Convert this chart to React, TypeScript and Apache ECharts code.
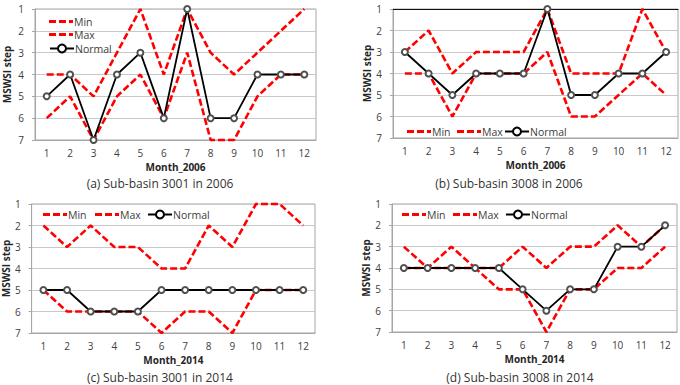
import React, { useEffect, useRef } from "react";
import * as echarts from "echarts";

// Month categories shared by every panel
const months = ["1", "2", "3", "4", "5", "6", "7", "8", "9", "10", "11", "12"];
const stepTicks = [1, 2, 3, 4, 5, 6, 7];

// (a) Sub-basin 3001, 2006
const a_min = [4, 4, 5, 3, 1, 4, 1, 3, 4, 3, 2, 1];
const a_max = [6, 5, 7, 5, 4, 6, 3, 7, 7, 5, 4, 4];
const a_normal = [5, 4, 7, 4, 3, 6, 1, 6, 6, 4, 4, 4];

// (b) Sub-basin 3008, 2006
const b_min = [3, 2, 4, 3, 3, 3, 1, 4, 4, 4, 1, 3];
const b_max = [4, 4, 6, 4, 4, 4, 3, 6, 6, 5, 4, 5];
const b_normal = [3, 4, 5, 4, 4, 4, 1, 5, 5, 4, 4, 3];

// (c) Sub-basin 3001, 2014
const c_min = [2, 3, 2, 3, 3, 4, 4, 2, 3, 1, 1, 2];
const c_max = [5, 6, 6, 6, 6, 7, 6, 6, 7, 5, 5, 5];
const c_normal = [5, 5, 6, 6, 6, 5, 5, 5, 5, 5, 5, 5];

// (d) Sub-basin 3008, 2014
const d_min = [3, 4, 3, 4, 4, 3, 4, 3, 3, 2, 3, 2];
const d_max = [4, 4, 4, 4, 5, 5, 7, 5, 5, 4, 4, 3];
const d_normal = [4, 4, 4, 4, 4, 5, 6, 5, 5, 3, 3, 2];

const captions = [
  "(a) Sub-basin 3001 in 2006",
  "(b) Sub-basin 3008 in 2006",
  "(c) Sub-basin 3001 in 2014",
  "(d) Sub-basin 3008 in 2014",
];
const xNames = ["Month_2006", "Month_2006", "Month_2014", "Month_2014"];

const FONT = "'Open Sans', 'Noto Sans', sans-serif";
const RED = "#ff0000";
// dashed legend swatch for the envelope series (24 x 3 box)
const DASH_ICON = "path://M0,0h7v3h-7z M10,0h7v3h-7z M20,0h4v3h-4z";

export default function App() {
  const ref = useRef<HTMLDivElement>(null);

  useEffect(() => {
    document.body.style.margin = "0";
    if (!ref.current) return;
    const chart = echarts.init(ref.current, undefined, { renderer: "svg" });

    const panels = [
      { min: a_min, max: a_max, normal: a_normal },
      { min: b_min, max: b_max, normal: b_normal },
      { min: c_min, max: c_max, normal: c_normal },
      { min: d_min, max: d_max, normal: d_normal },
    ];

    const grids = [
      { left: 35, top: 9, width: 281, height: 131 },
      { left: 393, top: 9, width: 285, height: 129 },
      { left: 30, top: 204, width: 285, height: 129 },
      { left: 392, top: 204, width: 285, height: 128 },
    ];
    const yNameGap = [23, 20, 18, 19];

    const xAxes: any[] = grids.map((_, i) => ({
      type: "category",
      gridIndex: i,
      data: months,
      boundaryGap: true,
      name: xNames[i],
      nameLocation: "middle",
      nameGap: 22,
      nameTextStyle: { fontWeight: "bold", fontSize: 10, color: "#262626", fontFamily: FONT },
      axisLine: { lineStyle: { color: "#a6a6a6", width: 1 } },
      axisTick: { show: false },
      axisLabel: { fontSize: 10, color: "#404040", margin: 8, fontFamily: FONT },
      splitLine: { show: false },
    }));
    // dark top edge of panel (b)
    xAxes.push({
      type: "category",
      gridIndex: 1,
      position: "top",
      data: months,
      axisLine: { lineStyle: { color: "#111", width: 1 } },
      axisTick: { show: false },
      axisLabel: { show: false },
      splitLine: { show: false },
    });

    const yAxes = grids.map((_, i) => ({
      type: "value",
      gridIndex: i,
      inverse: true,
      min: stepTicks[0],
      max: stepTicks[stepTicks.length - 1],
      interval: 1,
      name: "MSWSI step",
      nameLocation: "middle",
      nameGap: yNameGap[i],
      nameTextStyle: { fontWeight: "bold", fontSize: 10, color: "#262626", fontFamily: FONT },
      axisLine: { show: true, lineStyle: { color: "#a6a6a6", width: 1 } },
      axisTick: { show: true, length: 3, lineStyle: { color: "#a6a6a6" } },
      axisLabel: { fontSize: 10, color: "#404040", margin: 11, fontFamily: FONT },
      splitLine: { show: true, lineStyle: { color: "#c8c8c8", width: 1 } },
    }));

    const series: any[] = [];
    panels.forEach((p, i) => {
      const dashed = {
        type: "line",
        xAxisIndex: i,
        yAxisIndex: i,
        symbol: "none",
        clip: false,
        lineStyle: { color: RED, width: 2.6, type: [7, 3] },
        itemStyle: { color: RED },
      };
      series.push({ ...dashed, name: "Min", data: p.min, z: 2 });
      series.push({ ...dashed, name: "Max", data: p.max, z: 2 });
      series.push({
        type: "line",
        name: "Normal",
        xAxisIndex: i,
        yAxisIndex: i,
        data: p.normal,
        clip: false,
        symbol: "emptyCircle",
        symbolSize: 6,
        lineStyle: { color: "#000", width: 1.8 },
        itemStyle: { color: "#505050", borderColor: "#505050", borderWidth: 1 },
        z: 3,
      });
    });

    // legend item positions: [name, left, centerY]
    const legendItems: [string, number, number][] = [
      ["Min", 49, 21], ["Max", 49, 34], ["Normal", 49, 48],
      ["Min", 407, 131], ["Max", 457, 131], ["Normal", 504, 131],
      ["Min", 43, 214], ["Max", 95, 214], ["Normal", 147, 214],
      ["Min", 402, 214], ["Max", 453, 214], ["Normal", 505, 214],
    ];
    const legends = legendItems.map(([name, left, cy]) => {
      const dash = name !== "Normal";
      return {
        data: [name],
        left,
        top: cy - 5,
        padding: 0,
        itemWidth: 24,
        itemHeight: dash ? 3 : 10,
        icon: dash ? DASH_ICON : undefined,
        itemStyle: dash ? { color: RED } : undefined,
        selectedMode: false,
        textStyle: {
          fontSize: 10.5,
          color: "#404040",
          fontFamily: FONT,
          lineHeight: 10,
          padding: [0, 0, 0, -4],
        },
      };
    });

    const captionPos: [number, number][] = [
      [160, 183], [509, 183], [160, 377], [520, 377],
    ];
    const graphic = captions.map((t, i) => ({
      type: "text",
      x: captionPos[i][0],
      y: captionPos[i][1],
      style: {
        text: t,
        fontSize: 12,
        fontFamily: FONT,
        fill: "#333",
        textAlign: "center",
        textVerticalAlign: "middle",
      },
    }));

    chart.setOption({
      animation: false,
      backgroundColor: "#fff",
      textStyle: { fontFamily: FONT },
      grid: grids.map((g) => ({ ...g, show: true, borderColor: "#a6a6a6", borderWidth: 1, containLabel: false })),
      xAxis: xAxes,
      yAxis: yAxes,
      legend: legends,
      series,
      graphic,
    });

    return () => chart.dispose();
  }, []);

  return <div ref={ref} style={{ width: 680, height: 385 }} />;
}
